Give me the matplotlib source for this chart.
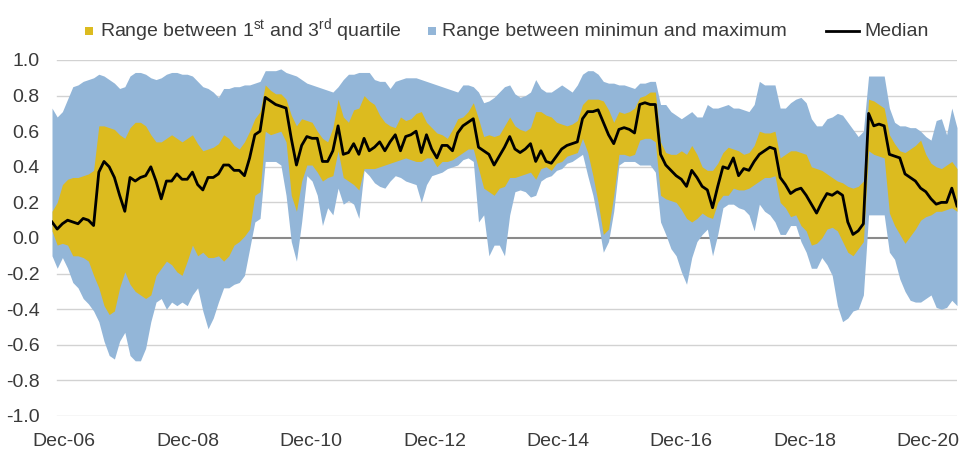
import numpy as np
import pandas as pd
import matplotlib
matplotlib.use("Agg")
import matplotlib.pyplot as plt
from matplotlib.patches import Rectangle
from matplotlib.lines import Line2D

# ---------------- data (roughly monthly) ----------------
series_max = [
    0.73, 0.68, 0.71, 0.78, 0.85, 0.86, 0.88, 0.89, 0.90, 0.92, 0.91, 0.89, 0.87, 0.84, 0.85, 0.91, 0.93, 0.93, 0.92, 0.90, 0.89, 0.90, 0.92, 0.93, 0.93, 0.92, 0.92, 0.91, 0.88,
    0.85, 0.84, 0.82, 0.79, 0.84, 0.84, 0.85, 0.85, 0.86, 0.86, 0.87, 0.88, 0.94, 0.94, 0.94, 0.95, 0.93, 0.92, 0.91, 0.89, 0.87, 0.86, 0.85, 0.84, 0.83, 0.82, 0.85, 0.89, 0.92,
    0.92, 0.93, 0.93, 0.93, 0.89, 0.88, 0.88, 0.84, 0.88, 0.89, 0.90, 0.90, 0.90, 0.89, 0.88, 0.87, 0.86, 0.85, 0.84, 0.83, 0.82, 0.86, 0.86, 0.85, 0.82, 0.76, 0.77, 0.79, 0.82,
    0.85, 0.86, 0.81, 0.79, 0.80, 0.82, 0.89, 0.84, 0.82, 0.82, 0.84, 0.86, 0.84, 0.82, 0.86, 0.92, 0.94, 0.94, 0.92, 0.88, 0.87, 0.87, 0.86, 0.86, 0.85, 0.84, 0.87, 0.87, 0.88,
    0.88, 0.75, 0.75, 0.71, 0.69, 0.67, 0.69, 0.71, 0.68, 0.68, 0.75, 0.73, 0.73, 0.74, 0.75, 0.73, 0.73, 0.72, 0.71, 0.75, 0.88, 0.86, 0.86, 0.86, 0.73, 0.73, 0.76, 0.78,
    0.79, 0.76, 0.67, 0.63, 0.63, 0.67, 0.68, 0.70, 0.69, 0.65, 0.61, 0.57, 0.60, 0.91, 0.91, 0.91, 0.91, 0.73, 0.65, 0.63, 0.63, 0.62, 0.62, 0.60, 0.57, 0.55, 0.66, 0.67, 0.58, 0.73, 0.62,
]
series_q3 = [
    0.15, 0.20, 0.30, 0.33, 0.34, 0.34, 0.35, 0.36, 0.38, 0.63, 0.63, 0.62, 0.61, 0.58, 0.56, 0.62, 0.65, 0.65, 0.63, 0.58, 0.54, 0.54, 0.56, 0.58, 0.56, 0.54, 0.56, 0.58, 0.53,
    0.49, 0.50, 0.51, 0.53, 0.58, 0.56, 0.52, 0.50, 0.54, 0.60, 0.67, 0.71, 0.86, 0.83, 0.81, 0.81, 0.78, 0.69, 0.63, 0.67, 0.66, 0.65, 0.60, 0.56, 0.54, 0.62, 0.78, 0.68, 0.65,
    0.72, 0.73, 0.80, 0.77, 0.75, 0.69, 0.65, 0.63, 0.62, 0.68, 0.66, 0.67, 0.70, 0.71, 0.65, 0.62, 0.59, 0.58, 0.56, 0.61, 0.67, 0.68, 0.71, 0.76, 0.67, 0.57, 0.58, 0.57, 0.58,
    0.63, 0.68, 0.63, 0.61, 0.60, 0.62, 0.71, 0.71, 0.69, 0.68, 0.65, 0.64, 0.63, 0.64, 0.66, 0.75, 0.78, 0.78, 0.78, 0.77, 0.72, 0.65, 0.71, 0.70, 0.71, 0.73, 0.79, 0.80, 0.82,
    0.82, 0.54, 0.48, 0.47, 0.47, 0.49, 0.47, 0.52, 0.47, 0.40, 0.38, 0.38, 0.42, 0.48, 0.51, 0.50, 0.49, 0.47, 0.48, 0.52, 0.60, 0.59, 0.59, 0.60, 0.45, 0.47, 0.49, 0.49,
    0.48, 0.47, 0.40, 0.39, 0.38, 0.36, 0.34, 0.32, 0.31, 0.29, 0.28, 0.29, 0.32, 0.78, 0.77, 0.75, 0.73, 0.58, 0.53, 0.49, 0.48, 0.50, 0.52, 0.55, 0.47, 0.42, 0.40, 0.39, 0.41, 0.43, 0.39,
]
series_median = [
    0.09, 0.05, 0.08, 0.10, 0.09, 0.08, 0.11, 0.10, 0.07, 0.37, 0.43, 0.40, 0.34, 0.24, 0.15, 0.34, 0.32, 0.34, 0.35, 0.40, 0.32, 0.22, 0.32, 0.32, 0.36, 0.33, 0.33, 0.37, 0.30,
    0.27, 0.34, 0.34, 0.36, 0.41, 0.41, 0.38, 0.38, 0.35, 0.45, 0.58, 0.60, 0.79, 0.77, 0.75, 0.74, 0.73, 0.56, 0.41, 0.52, 0.57, 0.56, 0.56, 0.43, 0.43, 0.49, 0.63, 0.47, 0.48,
    0.53, 0.47, 0.56, 0.49, 0.51, 0.54, 0.49, 0.54, 0.58, 0.49, 0.57, 0.58, 0.60, 0.48, 0.58, 0.50, 0.45, 0.52, 0.52, 0.49, 0.59, 0.63, 0.65, 0.67, 0.51, 0.49, 0.47, 0.41, 0.46,
    0.51, 0.57, 0.50, 0.48, 0.50, 0.53, 0.43, 0.49, 0.43, 0.42, 0.46, 0.50, 0.52, 0.53, 0.54, 0.67, 0.71, 0.71, 0.72, 0.65, 0.58, 0.53, 0.61, 0.62, 0.61, 0.59, 0.75, 0.76, 0.75,
    0.75, 0.47, 0.41, 0.38, 0.35, 0.33, 0.29, 0.38, 0.34, 0.29, 0.27, 0.17, 0.29, 0.40, 0.39, 0.45, 0.35, 0.39, 0.38, 0.43, 0.47, 0.49, 0.51, 0.50, 0.34, 0.30, 0.25, 0.27,
    0.28, 0.24, 0.19, 0.14, 0.20, 0.25, 0.24, 0.26, 0.24, 0.09, 0.02, 0.04, 0.08, 0.70, 0.63, 0.64, 0.63, 0.47, 0.46, 0.45, 0.36, 0.34, 0.32, 0.28, 0.26, 0.22, 0.19, 0.20, 0.20, 0.28, 0.18,
]
series_q1 = [
    0.04, -0.04, -0.03, -0.04, -0.10, -0.10, -0.11, -0.13, -0.21, -0.28, -0.38, -0.43, -0.41, -0.28, -0.19, -0.26, -0.30, -0.32, -0.34, -0.32, -0.21, -0.17, -0.13, -0.15, -0.19, -0.21, -0.13, -0.04, -0.10,
    -0.08, -0.11, -0.11, -0.10, -0.13, -0.10, -0.04, -0.02, 0.01, 0.05, 0.24, 0.26, 0.60, 0.58, 0.59, 0.60, 0.54, 0.24, 0.15, 0.32, 0.41, 0.41, 0.37, 0.32, 0.34, 0.35, 0.49, 0.34, 0.32,
    0.30, 0.27, 0.39, 0.39, 0.39, 0.40, 0.41, 0.42, 0.43, 0.44, 0.45, 0.44, 0.43, 0.43, 0.45, 0.45, 0.40, 0.43, 0.43, 0.44, 0.46, 0.48, 0.50, 0.50, 0.39, 0.28, 0.26, 0.24, 0.28,
    0.29, 0.34, 0.34, 0.35, 0.36, 0.37, 0.33, 0.39, 0.40, 0.38, 0.42, 0.43, 0.46, 0.47, 0.48, 0.56, 0.48, 0.35, 0.20, 0.02, 0.05, 0.24, 0.47, 0.47, 0.46, 0.47, 0.55, 0.56, 0.56,
    0.54, 0.24, 0.22, 0.21, 0.20, 0.16, 0.11, 0.09, 0.11, 0.14, 0.12, 0.11, 0.20, 0.24, 0.24, 0.28, 0.27, 0.27, 0.28, 0.30, 0.32, 0.34, 0.34, 0.35, 0.20, 0.17, 0.12, 0.13,
    0.07, 0.04, -0.04, -0.03, 0.00, 0.05, 0.06, 0.04, -0.02, -0.08, -0.10, -0.06, -0.02, 0.49, 0.47, 0.46, 0.45, 0.14, 0.07, 0.02, -0.03, 0.01, 0.05, 0.10, 0.12, 0.13, 0.15, 0.15, 0.16, 0.17, 0.15,
]
series_min = [
    -0.10, -0.17, -0.11, -0.17, -0.25, -0.28, -0.34, -0.37, -0.41, -0.47, -0.58, -0.66, -0.68, -0.58, -0.53, -0.66, -0.69, -0.69, -0.62, -0.47, -0.36, -0.34, -0.40, -0.36, -0.38, -0.36, -0.38, -0.32, -0.28,
    -0.41, -0.51, -0.45, -0.36, -0.28, -0.28, -0.26, -0.25, -0.21, -0.06, 0.09, 0.11, 0.43, 0.43, 0.43, 0.41, 0.24, -0.02, -0.13, 0.09, 0.35, 0.32, 0.24, 0.07, 0.17, 0.13, 0.28, 0.19, 0.21,
    0.19, 0.11, 0.38, 0.35, 0.31, 0.29, 0.28, 0.32, 0.35, 0.34, 0.32, 0.31, 0.30, 0.20, 0.30, 0.35, 0.36, 0.37, 0.39, 0.40, 0.41, 0.44, 0.45, 0.43, 0.09, 0.13, -0.10, -0.04, -0.04,
    -0.10, 0.13, 0.26, 0.27, 0.26, 0.23, 0.24, 0.32, 0.34, 0.35, 0.38, 0.39, 0.42, 0.43, 0.45, 0.47, 0.35, 0.24, 0.09, -0.08, -0.02, 0.15, 0.41, 0.43, 0.43, 0.43, 0.41, 0.41, 0.41,
    0.37, 0.09, 0.02, -0.06, -0.10, -0.19, -0.26, -0.11, -0.02, 0.02, 0.05, -0.10, 0.02, 0.17, 0.19, 0.19, 0.17, 0.16, 0.13, 0.04, 0.19, 0.15, 0.13, 0.09, 0.02, 0.02, 0.07, 0.07,
    -0.02, -0.08, -0.17, -0.17, -0.11, -0.15, -0.21, -0.38, -0.47, -0.45, -0.41, -0.40, -0.32, 0.13, 0.13, 0.13, 0.13, -0.08, -0.12, -0.23, -0.30, -0.35, -0.36, -0.36, -0.34, -0.32, -0.39, -0.40, -0.39, -0.35, -0.38,
]
date_start, date_end = "2006-09-21", "2021-05-20"
tick_years = [2006, 2008, 2010, 2012, 2014, 2016, 2018, 2020]
y_ticks = [-1.0, -0.8, -0.6, -0.4, -0.2, 0.0, 0.2, 0.4, 0.6, 0.8, 1.0]

legend_q = "Range between 1$^{\\mathrm{st}}$ and 3$^{\\mathrm{rd}}$ quartile"
legend_mm = "Range between minimun and maximum"
legend_med = "Median"

# ---------------- style ----------------
FONT = "Liberation Sans"
plt.rcParams["font.family"] = [FONT, "DejaVu Sans"]
plt.rcParams["mathtext.fontset"] = "custom"
plt.rcParams["mathtext.rm"] = FONT
plt.rcParams["mathtext.it"] = FONT
plt.rcParams["mathtext.bf"] = FONT

YELLOW = "#DCBB1F"
BLUE = "#93B6D8"
TXT = "#3a3a3a"
FS = 14

W, H = 959, 458
fig = plt.figure(figsize=(W / 100, H / 100), dpi=100)
ax = fig.add_axes([52 / W, 42 / H, 905 / W, 356 / H])

dates = pd.date_range(date_start, date_end, periods=len(series_median))

for v in y_ticks:
    if abs(v) < 1e-9:
        ax.axhline(v, xmin=5 / 905, color="#8a8a8a", lw=1.5, zorder=1)
    else:
        ax.axhline(v, xmin=5 / 905, color="#d2d2d2", lw=1.0, zorder=1)

ax.fill_between(dates, series_min, series_max, color=BLUE, lw=0, zorder=2)
ax.fill_between(dates, series_q1, series_q3, color=YELLOW, lw=0, zorder=3)
ax.plot(dates, series_median, color="black", lw=2.0, zorder=4)

ax.set_xlim(dates[0], dates[-1])
ax.set_ylim(-1.0, 1.0)

xt = pd.to_datetime([f"{y}-12-01" for y in tick_years])
ax.set_xticks(xt)
ax.set_xticklabels([d.strftime("%b-%y") for d in xt])
ax.set_yticks(y_ticks)
ax.set_yticklabels([f"{v + 0.0:.1f}" for v in y_ticks])
ax.tick_params(axis="both", length=0, labelsize=FS, labelcolor=TXT)
ax.tick_params(axis="y", pad=9)
ax.tick_params(axis="x", pad=12)
for s in ax.spines.values():
    s.set_visible(False)

# ---------------- legend (top) ----------------
def fy(py):
    return 1 - py / H

fig.add_artist(Rectangle((85 / W, fy(35)), 8 / W, 8 / H, transform=fig.transFigure,
                         facecolor=YELLOW, edgecolor="none"))
fig.text(100 / W, fy(36), legend_q, fontsize=FS, color=TXT, va="baseline", ha="left")
fig.add_artist(Rectangle((428 / W, fy(35)), 8 / W, 8 / H, transform=fig.transFigure,
                         facecolor=BLUE, edgecolor="none"))
fig.text(442 / W, fy(36), legend_mm, fontsize=FS, color=TXT, va="baseline", ha="left")
fig.add_artist(Line2D([826 / W, 859 / W], [fy(31), fy(31)], transform=fig.transFigure,
                      color="black", lw=2))
fig.text(864 / W, fy(36), legend_med, fontsize=FS, color=TXT, va="baseline", ha="left")

fig.savefig("out.png", dpi=100)
